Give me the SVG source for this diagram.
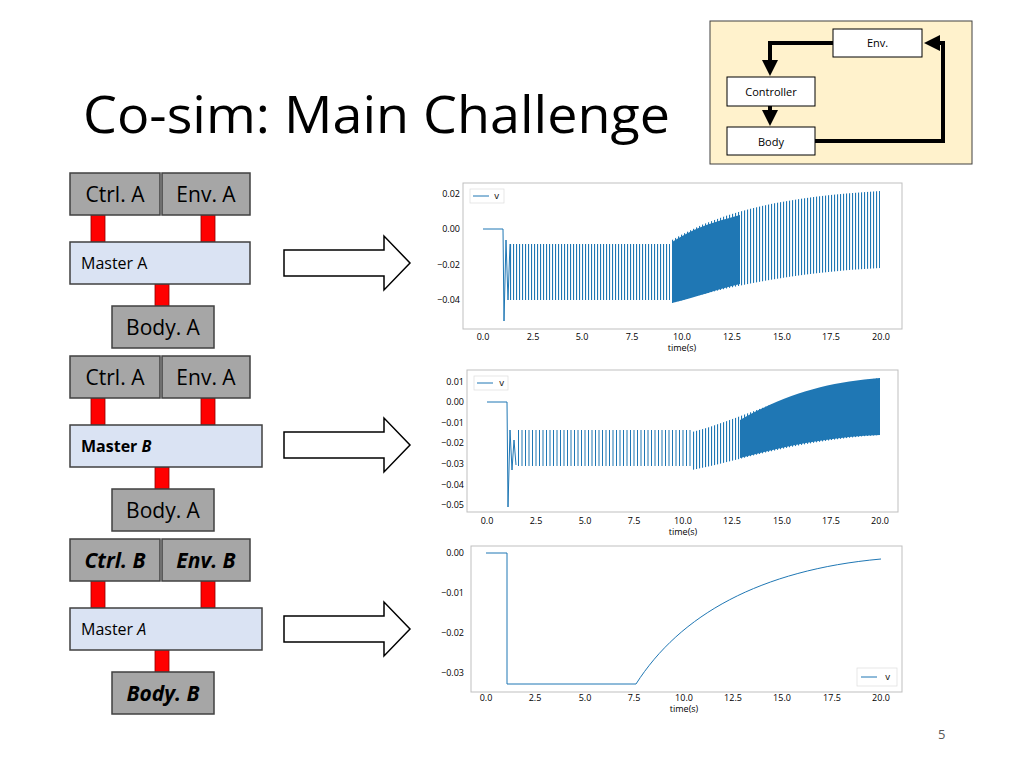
<svg xmlns="http://www.w3.org/2000/svg" width="1024" height="768" viewBox="0 0 1024 768">
<style>
text{font-family:"Open Sans","Liberation Sans",sans-serif;fill:#000}
.g{fill:#a6a6a6;stroke:#404040;stroke-width:1.5}
.m{fill:#dae3f3;stroke:#404040;stroke-width:1.5}
.r{fill:#ff0000;stroke:#8b0000;stroke-width:0.8}
.bt{font-size:21px;text-anchor:middle}
.mt{font-size:16px}
.ar{fill:#fff;stroke:#000;stroke-width:1.5}
.fr{fill:#fff;stroke:#bfbfbf;stroke-width:1}
.tk{font-family:"DejaVu Sans",sans-serif;font-size:9px;fill:#222}
.w{fill:none;stroke:#1f77b4;stroke-width:1}
.sb{fill:#fff;stroke:#000;stroke-width:1}
.st{font-size:11px;text-anchor:middle}
</style>
<defs>
<pattern id="zz" width="3" height="10" patternUnits="userSpaceOnUse"><rect x="0" y="0" width="1.1" height="10" fill="#1f77b4"/></pattern>
<pattern id="zs" width="7" height="10" patternUnits="userSpaceOnUse"><rect x="0" y="0" width="1" height="10" fill="#1f77b4"/><rect x="3.5" y="0" width="1" height="10" fill="#1f77b4"/></pattern>
<marker id="ah" markerWidth="4" markerHeight="4" refX="2" refY="2" orient="auto" markerUnits="strokeWidth"><path d="M0,0 L4,2 L0,4 z" fill="#000"/></marker>
</defs>
<rect width="1024" height="768" fill="#fff"/>
<text x="83" y="133" font-size="52" textLength="587" lengthAdjust="spacingAndGlyphs">Co-sim: Main Challenge</text>

<g id="inset">
<rect x="710" y="21" width="262" height="143" fill="#fff2cc" stroke="#404040" stroke-width="1"/>
<g id="connectors-inset" fill="none" stroke="#000" stroke-width="4">
<path d="M833,43 H770 V68" marker-end="url(#ah)"/>
<path d="M770,106 V118" marker-end="url(#ah)"/>
<path d="M815,141 H943 V43 H932" marker-end="url(#ah)"/>
</g>
<g id="env"><rect class="sb" x="833" y="29" width="89" height="28"/><text class="st" x="877.5" y="47">Env.</text></g>
<g id="controller"><rect class="sb" x="727" y="77" width="88" height="29"/><text class="st" x="771" y="96">Controller</text></g>
<g id="body"><rect class="sb" x="727" y="127" width="88" height="28"/><text class="st" x="771" y="146">Body</text></g>
</g>

<g id="connectors">
<rect class="r" x="91" y="215" width="14" height="27"/><rect class="r" x="201" y="215" width="14" height="27"/><rect class="r" x="155" y="284" width="14" height="22"/>
<rect class="r" x="91" y="398" width="14" height="27"/><rect class="r" x="201" y="398" width="14" height="27"/><rect class="r" x="155" y="467" width="14" height="22"/>
<rect class="r" x="91" y="581" width="14" height="27"/><rect class="r" x="201" y="581" width="14" height="27"/><rect class="r" x="155" y="650" width="14" height="22"/>
<path class="ar" d="M284,250 H384 V236 L410,263 L384,290 V276 H284 Z"/>
<path class="ar" d="M284,432 H384 V418 L410,445 L384,472 V458 H284 Z"/>
<path class="ar" d="M284,616 H384 V602 L410,629 L384,656 V642 H284 Z"/>
</g>

<g id="ctrlA1"><rect class="g" x="70" y="173" width="90" height="42"/><text class="bt" x="115" y="202">Ctrl. A</text></g>
<g id="envA1"><rect class="g" x="162" y="173" width="88" height="42"/><text class="bt" x="206" y="202">Env. A</text></g>
<g id="masterA1"><rect class="m" x="70" y="242" width="180" height="42"/><text class="mt" x="81" y="269">Master A</text></g>
<g id="bodyA1"><rect class="g" x="112" y="306" width="102" height="42"/><text class="bt" x="163" y="335">Body. A</text></g>

<g id="ctrlA2"><rect class="g" x="70" y="356" width="90" height="42"/><text class="bt" x="115" y="385">Ctrl. A</text></g>
<g id="envA2"><rect class="g" x="162" y="356" width="88" height="42"/><text class="bt" x="206" y="385">Env. A</text></g>
<g id="masterB"><rect class="m" x="70" y="425" width="192" height="42"/><text class="mt" x="81" y="452" font-weight="bold">Master <tspan font-style="italic">B</tspan></text></g>
<g id="bodyA2"><rect class="g" x="112" y="489" width="102" height="42"/><text class="bt" x="163" y="518">Body. A</text></g>

<g id="ctrlB"><rect class="g" x="70" y="539" width="90" height="42"/><text class="bt" x="115" y="568" font-weight="bold" font-style="italic">Ctrl. B</text></g>
<g id="envB"><rect class="g" x="162" y="539" width="88" height="42"/><text class="bt" x="206" y="568" font-weight="bold" font-style="italic">Env. B</text></g>
<g id="masterA3"><rect class="m" x="70" y="608" width="192" height="42"/><text class="mt" x="81" y="635">Master <tspan font-style="italic">A</tspan></text></g>
<g id="bodyB"><rect class="g" x="112" y="672" width="102" height="42"/><text class="bt" x="163" y="701" font-weight="bold" font-style="italic">Body. B</text></g>

<g id="plot1">
<rect class="fr" x="463" y="183" width="439" height="146"/>
<g class="tk" text-anchor="end"><text x="460" y="197">0.02</text><text x="460" y="232">0.00</text><text x="460" y="268">−0.02</text><text x="460" y="303">−0.04</text></g>
<g class="tk" text-anchor="middle"><text x="483" y="340">0.0</text><text x="533" y="340">2.5</text><text x="582" y="340">5.0</text><text x="632" y="340">7.5</text><text x="682" y="340">10.0</text><text x="732" y="340">12.5</text><text x="782" y="340">15.0</text><text x="831" y="340">17.5</text><text x="881" y="340">20.0</text><text x="682" y="351">time(s)</text></g>
<path class="w" d="M483,229 H503 L504,321 L506,240 L508,300 L510,244"/>
<rect x="510" y="244" width="160" height="56" fill="url(#zz)"/>
<path d="M672,240 C720,212 780,197 880,191 L880,268 C800,272 730,285 672,303 Z" fill="url(#zz)"/>
<path d="M672,242 C700,225 715,222 740,215 L740,284 C715,290 700,296 672,303 Z" fill="#1f77b4"/>
<rect x="470" y="189" width="34" height="14" fill="#fff" stroke="#ddd" stroke-width="0.7"/>
<line x1="473" y1="196" x2="489" y2="196" stroke="#1f77b4"/><text class="tk" x="494" y="199">v</text>
</g>

<g id="plot2">
<rect class="fr" x="467" y="370" width="431" height="142"/>
<g class="tk" text-anchor="end"><text x="464" y="385">0.01</text><text x="464" y="405">0.00</text><text x="464" y="426">−0.01</text><text x="464" y="446">−0.02</text><text x="464" y="467">−0.03</text><text x="464" y="488">−0.04</text><text x="464" y="508">−0.05</text></g>
<g class="tk" text-anchor="middle"><text x="487" y="524">0.0</text><text x="536" y="524">2.5</text><text x="585" y="524">5.0</text><text x="634" y="524">7.5</text><text x="683" y="524">10.0</text><text x="732" y="524">12.5</text><text x="782" y="524">15.0</text><text x="831" y="524">17.5</text><text x="880" y="524">20.0</text><text x="683" y="535">time(s)</text></g>
<path class="w" d="M487,402 H507 L508,507 L510,430 L512,470 L514,440 L516,465"/>
<rect x="517" y="430" width="175" height="36" fill="url(#zs)"/>
<path d="M692,432 C740,420 790,390 880,378 L880,435 C800,440 740,460 692,470 Z" fill="url(#zz)"/>
<path d="M740,420 C790,392 830,382 880,378 L880,435 C830,437 790,445 740,458 Z" fill="#1f77b4"/>
<rect x="474" y="376" width="34" height="14" fill="#fff" stroke="#ddd" stroke-width="0.7"/>
<line x1="477" y1="383" x2="493" y2="383" stroke="#1f77b4"/><text class="tk" x="499" y="386">v</text>
</g>

<g id="plot3">
<rect class="fr" x="471" y="546" width="431" height="146"/>
<g class="tk" text-anchor="end"><text x="464" y="556">0.00</text><text x="464" y="596">−0.01</text><text x="464" y="636">−0.02</text><text x="464" y="676">−0.03</text></g>
<g class="tk" text-anchor="middle"><text x="486" y="701">0.0</text><text x="535" y="701">2.5</text><text x="585" y="701">5.0</text><text x="634" y="701">7.5</text><text x="684" y="701">10.0</text><text x="733" y="701">12.5</text><text x="782" y="701">15.0</text><text x="832" y="701">17.5</text><text x="881" y="701">20.0</text><text x="684" y="712">time(s)</text></g>
<path class="w" d="M486,553 H507 V684 H636 C680,615 760,570 881,559"/>
<rect x="857" y="668" width="40" height="18" fill="#fff" stroke="#ddd" stroke-width="0.7"/>
<line x1="861" y1="677" x2="877" y2="677" stroke="#1f77b4"/><text class="tk" x="885" y="680">v</text>
</g>

<text x="938" y="739" font-size="13" style="fill:#595959">5</text>
</svg>
